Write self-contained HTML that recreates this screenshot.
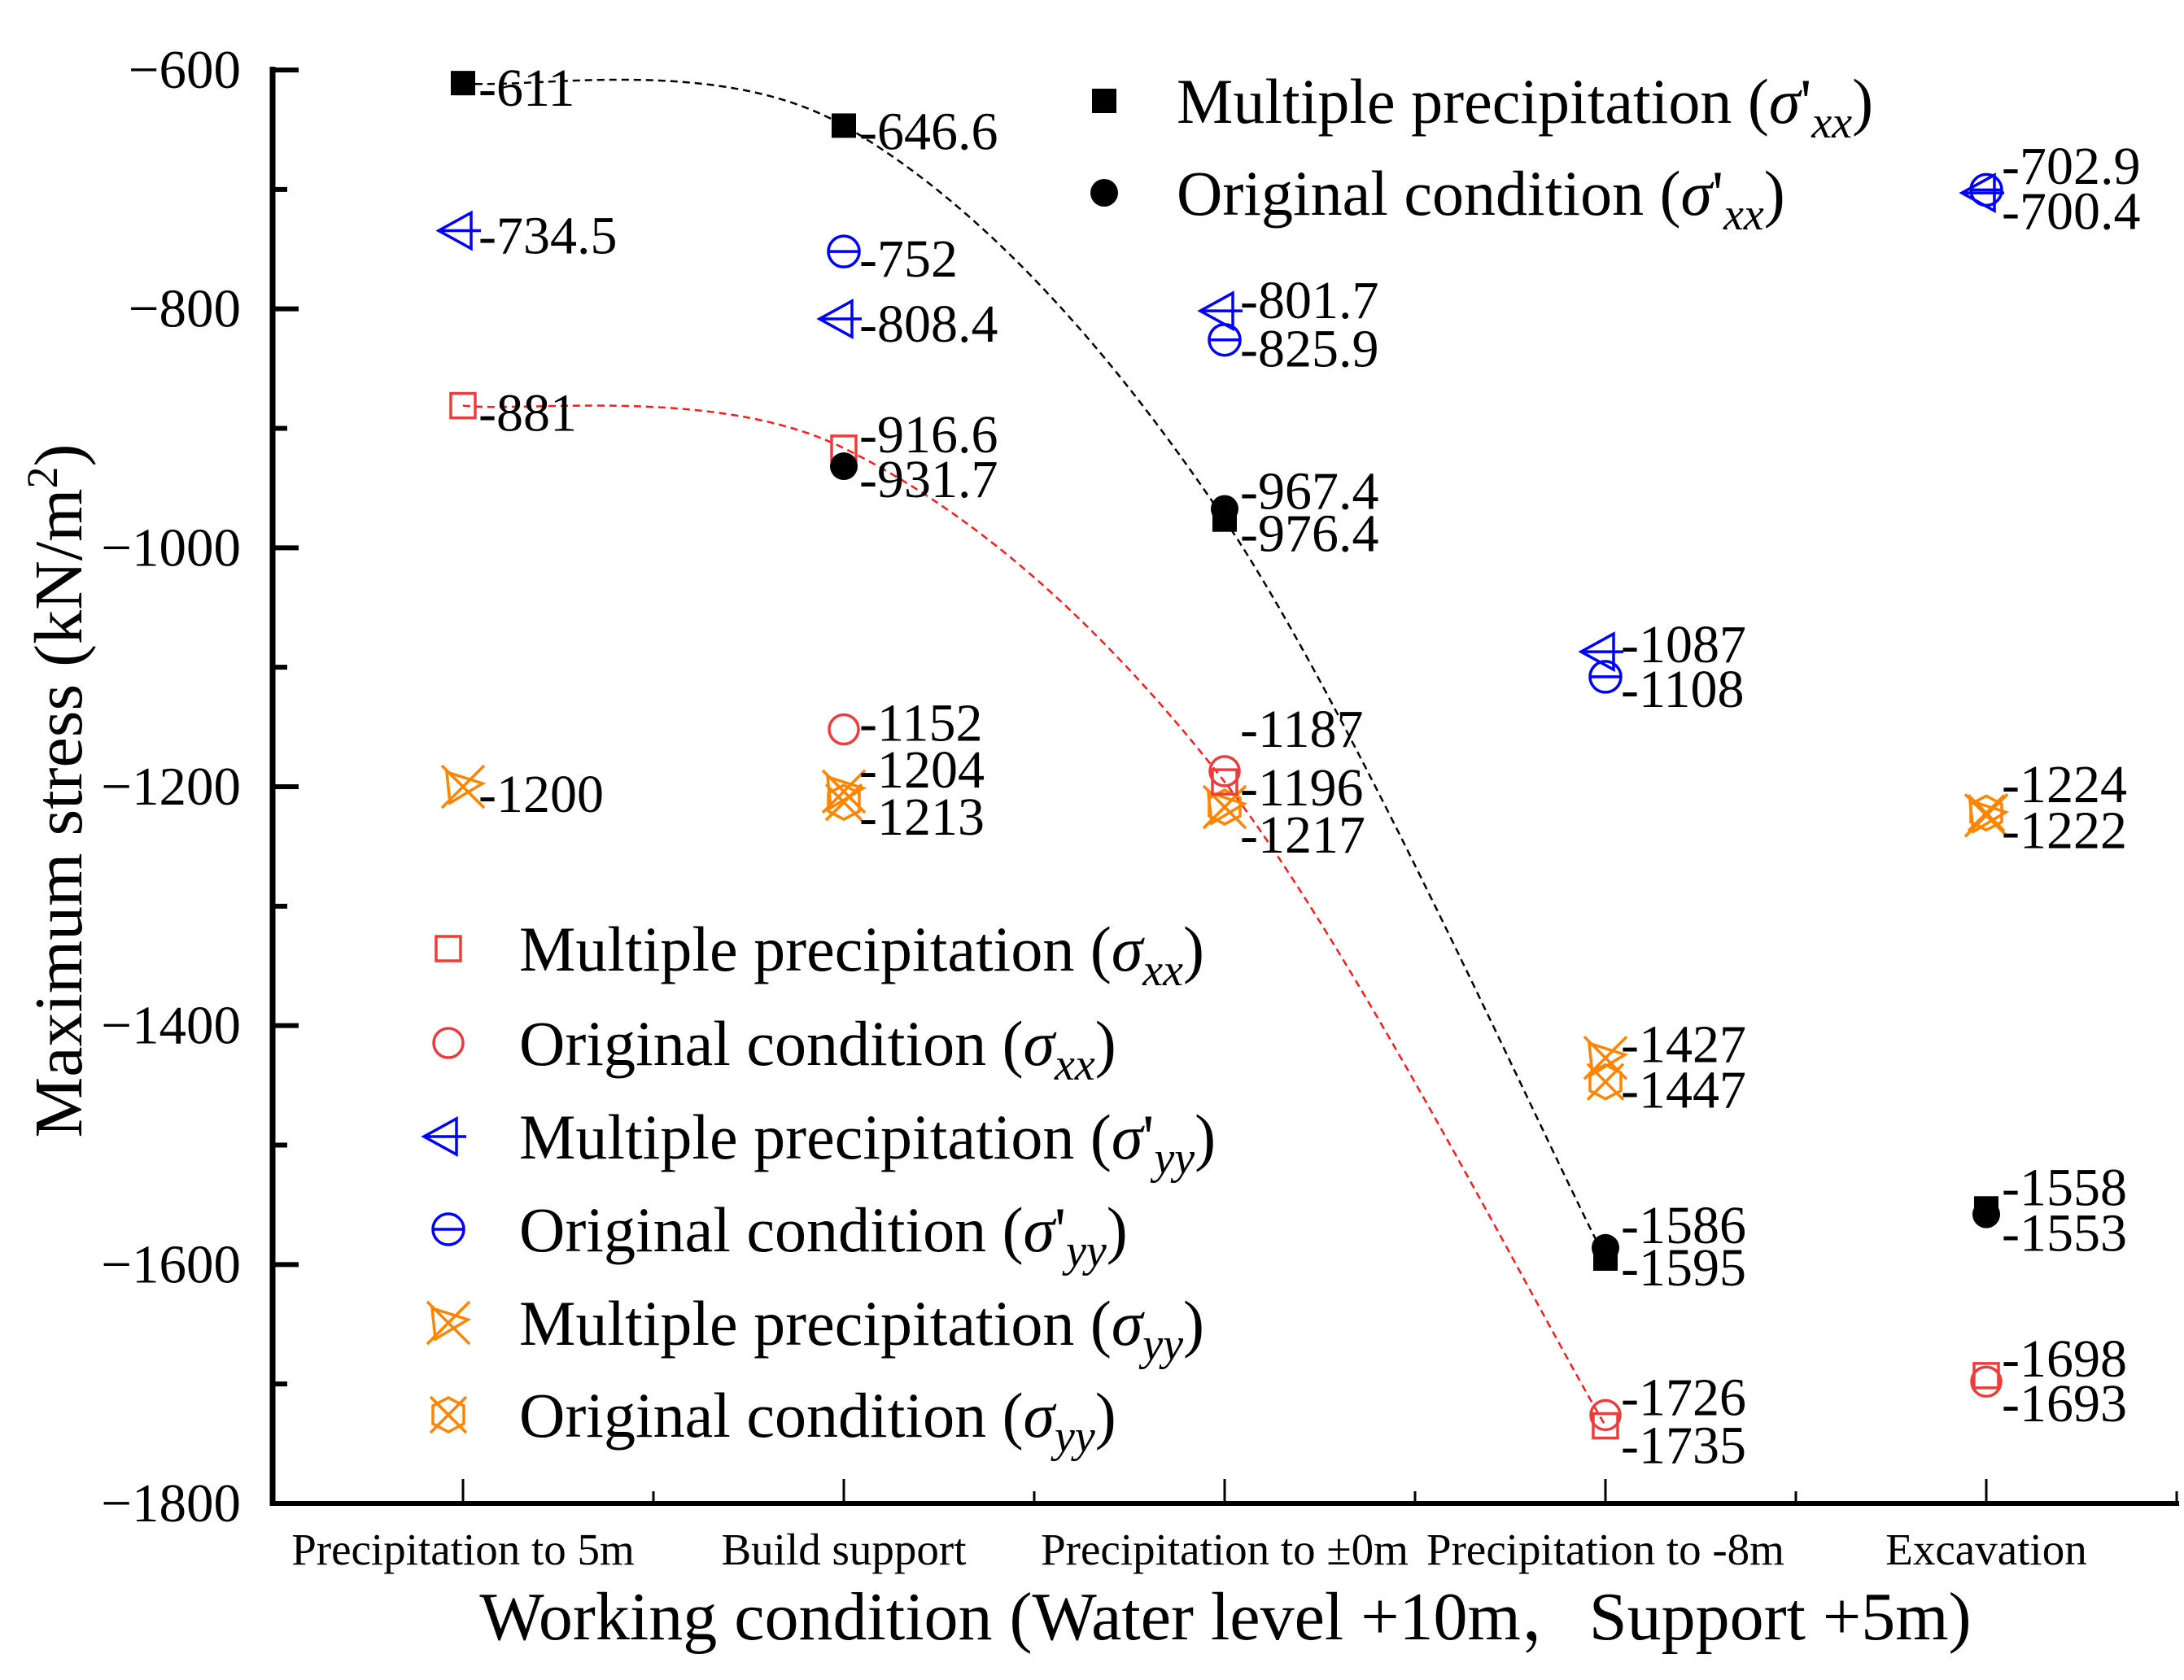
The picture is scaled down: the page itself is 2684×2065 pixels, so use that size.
<!DOCTYPE html>
<html><head><meta charset="utf-8"><style>
html,body{margin:0;padding:0;background:#fff;}
svg{display:block;font-family:"Liberation Serif","Noto Serif CJK SC",serif;}
</style></head><body>
<svg id="chart" width="2684" height="2065" viewBox="0 0 2684 2065" xmlns="http://www.w3.org/2000/svg">
<g id="axes"></g>
<g id="curves"></g>
<g id="marks"></g>
<g id="labels"></g>
<g id="legend"></g>
<text x="1506" y="2015" font-size="84" text-anchor="middle">Working condition (Water level +10m，Support +5m)</text>
<text transform="translate(100,972) rotate(-90)" font-size="84" text-anchor="middle">Maximum stress (kN/m<tspan dy="-30" font-size="54">2</tspan><tspan dy="30">)</tspan></text>
</svg>
<script>
const categories = ["Precipitation to 5m","Build support","Precipitation to ±0m","Precipitation to -8m","Excavation"];
const yTicks = [-600,-800,-1000,-1200,-1400,-1600,-1800];
const mpSxxP = [-611,-646.6,-976.4,-1595,-1553];
const orSxxP = [null,-931.7,-967.4,-1586,-1558];
const mpSxx = [-881,-916.6,-1196,-1735,-1693];
const orSxx = [null,-1152,-1187,-1726,-1698];
const mpSyyP = [-734.5,-808.4,-801.7,-1087,-702.9];
const orSyyP = [null,-752,-825.9,-1108,-700.4];
const mpSyy = [-1200,-1204,-1217,-1427,-1224];
const orSyy = [null,-1213,-1217,-1447,-1222];

const NS="http://www.w3.org/2000/svg";
const X0=335,X1=2675,Y0=86,Y1=1848;
function xs(i){return X0+(i+0.5)/5*(X1-X0);}
function ys(v){return Y0+(v-(-600))/(-1200)*(Y1-Y0);}
function mk(tag,attrs,parent){const e=document.createElementNS(NS,tag);for(const k in attrs)e.setAttribute(k,attrs[k]);parent.appendChild(e);return e;}
const axes=document.getElementById('axes');
let l=mk('line',{x1:X0,y1:Y0-4,x2:X0,y2:Y1+3,stroke:'#000','stroke-width':7},axes);


l=mk('line',{x1:X0-3,y1:Y1,x2:X1+3,y2:Y1,stroke:'#000','stroke-width':6},axes);


yTicks.forEach((t,i)=>{
  const y=ys(t);
  const tk=mk('line',{x1:X0,y1:y,x2:X0+32,y2:y,stroke:'#000','stroke-width':6},axes);
  
  
  if(i<yTicks.length-1){const yy=ys(t-100);const m=mk('line',{x1:X0,y1:yy,x2:X0+18,y2:yy,stroke:'#000','stroke-width':6},axes);
    
    }
  const tx=mk('text',{x:296,y:y+22,'font-size':67,'text-anchor':'end'},axes);
  
  
  tx.textContent=String(t).replace('-','−');
});
categories.forEach((c,i)=>{
  const x=xs(i);
  const tk=mk('line',{x1:x,y1:Y1,x2:x,y2:Y1-30,stroke:'#000','stroke-width':3},axes);
  
  
  const xm=xs(i+0.5);
  const m=mk('line',{x1:xm,y1:Y1,x2:xm,y2:Y1-15,stroke:'#000','stroke-width':3},axes);
  
  
  const tx=mk('text',{x:x,y:1923,'font-size':55,'text-anchor':'middle'},axes);
  
  
  tx.textContent=c;
});
function curve(vals,color,name){
  const p=vals.slice(0,4).map((v,i)=>[xs(i),ys(v)]);
  let d=`M${p[0][0]},${p[0][1]}`;
  for(let i=0;i<p.length-1;i++){
    const a=p[Math.max(0,i-1)],b=p[i],c=p[i+1],e=p[Math.min(p.length-1,i+2)];
    const c1=[b[0]+(c[0]-a[0])/6,b[1]+(c[1]-a[1])/6],c2=[c[0]-(e[0]-b[0])/6,c[1]-(e[1]-b[1])/6];
    d+=` C${c1[0]},${c1[1]} ${c2[0]},${c2[1]} ${c[0]},${c[1]}`;
  }
  const pa=mk('path',{d:d,fill:'none',stroke:color,'stroke-width':2.5,'stroke-dasharray':'9 6'},document.getElementById('curves'));
  
  
}
curve(mpSxxP,'#000','curve-multiple-sxx-prime');
curve(mpSxx,'#ff1a1a','curve-multiple-sxx');
const BLUE='#0000ff',RED='#ee3c3c',ORA='#ff8400';
function marker(type,cx,cy,g){
  const s={fill:'none','stroke-width':3.5};
  if(type==='sqF')mk('rect',{x:cx-15,y:cy-15,width:30,height:30,fill:'#000'},g);
  else if(type==='cirF')mk('circle',{cx:cx,cy:cy,r:17,fill:'#000'},g);
  else if(type==='sqO')mk('rect',Object.assign({x:cx-15,y:cy-15,width:30,height:30,stroke:RED},s),g);
  else if(type==='cirO')mk('circle',Object.assign({cx:cx,cy:cy,r:18,stroke:RED},s),g);
  else if(type==='tri'){mk('path',Object.assign({d:`M${cx+10},${cy-22} L${cx-30},${cy} L${cx+10},${cy+22} Z M${cx-30},${cy} L${cx+22},${cy}`,stroke:BLUE},s),g);}
  else if(type==='cirL'){mk('circle',Object.assign({cx:cx,cy:cy,r:19,stroke:BLUE},s),g);mk('line',Object.assign({x1:cx-19,y1:cy,x2:cx+19,y2:cy,stroke:BLUE},s),g);}
  else if(type==='xTri'){mk('path',Object.assign({d:`M${cx-26},${cy-26} L${cx+26},${cy+26} M${cx+26},${cy-26} L${cx-26},${cy+26} M${cx-20},${cy-18} L${cx+24},${cy-4} L${cx-16},${cy+20} Z`,stroke:ORA},s),g);}
  else if(type==='xHex'){mk('path',Object.assign({d:`M${cx-22},${cy-22} L${cx+22},${cy+22} M${cx+22},${cy-22} L${cx-22},${cy+22} M${cx-19},${cy-11} L${cx},${cy-21} L${cx+19},${cy-11} L${cx+19},${cy+11} L${cx},${cy+21} L${cx-19},${cy+11} Z`,stroke:ORA},s),g);}
}
const seriesDefs=[
 [orSyy,'xHex','orig-syy',[0,17,null,9,20]],
 [mpSyy,'xTri','multiple-syy',[8,-28,33,-18,-39]],
 [orSxx,'cirO','orig-sxx',[0,-9,-53,-23,-29]],
 [mpSxx,'sqO','multiple-sxx',[8,-18,6,23,33]],
 [orSyyP,'cirL','orig-syy-prime',[0,8,10,14,25]],
 [mpSyyP,'tri','multiple-syy-prime',[5,5,-14,-10,-34]],
 [orSxxP,'cirF','orig-sxx-prime',[0,15,-23,-29,-34]],
 [mpSxxP,'sqF','multiple-sxx-prime',[5,6,16,10,29]]
];
const marks=document.getElementById('marks'),labs=document.getElementById('labels');
seriesDefs.forEach(([vals,type,name,dys])=>{
  vals.forEach((v,i)=>{
    if(v===null)return;
    const cx=xs(i),cy=ys(v);
    const g=mk('g',{},marks);
    
    
    marker(type,cx,cy,g);
    if(dys[i]===null)return;
    const t=mk('text',{x:cx+19,y:cy+dys[i]+23,'font-size':66},labs);
    
    
    t.textContent=String(v);
  });
});
const legend=document.getElementById('legend');
function legItem(type,mx,my,tx,main,prime,sub){
  const g=mk('g',{},legend);
  
  
  marker(type,mx,my,g);
  const t=mk('text',{x:tx,y:my+27,'font-size':78},g);
  t.innerHTML=main+' (<tspan font-style="italic">σ</tspan>'+(prime?"'":"")+'<tspan font-style="italic" font-size="56" dy="18">'+sub+'</tspan><tspan dy="-18">)</tspan>';
}
legItem('sqF',1357,124,1446,'Multiple precipitation',true,'xx');
legItem('cirF',1357,237,1446,'Original condition',true,'xx');
const L2=[['sqO','Multiple precipitation',false,'xx'],['cirO','Original condition',false,'xx'],['tri','Multiple precipitation',true,'yy'],['cirL','Original condition',true,'yy'],['xTri','Multiple precipitation',false,'yy'],['xHex','Original condition',false,'yy']];
const L2y=[1166,1282,1397,1511,1626,1739];
L2.forEach((e,i)=>legItem(e[0],551,L2y[i],638,e[1],e[2],e[3]));
</script>
</body></html>
